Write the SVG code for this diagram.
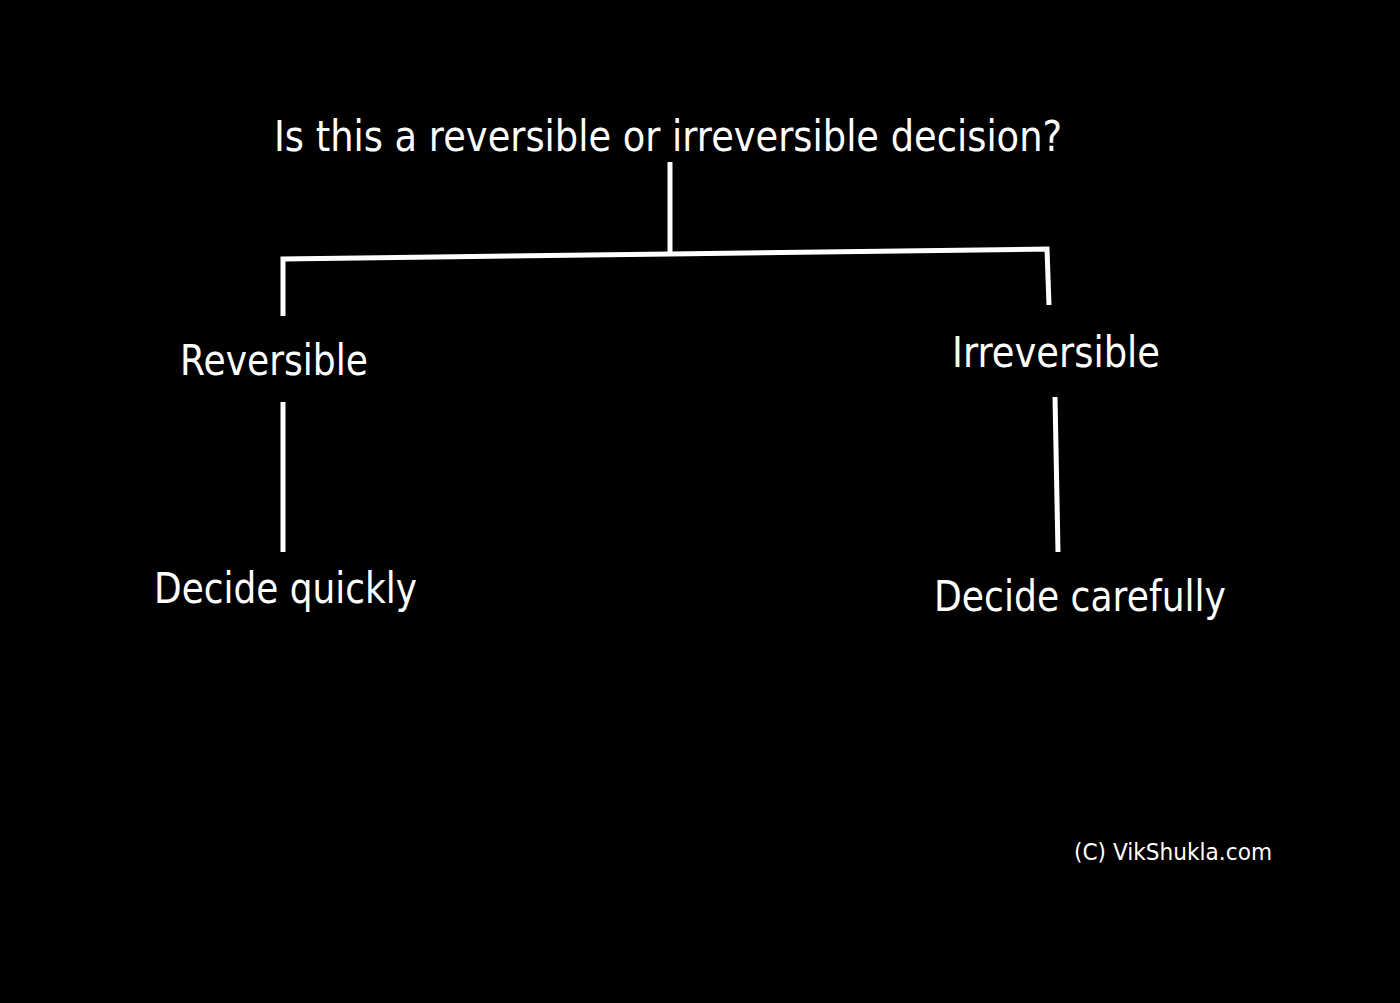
<svg xmlns="http://www.w3.org/2000/svg" width="1400" height="1003" viewBox="0 0 1400 1003">
<style>
.t{fill:#fff;font-family:"DejaVu Sans","Liberation Sans",sans-serif;font-size:43px}
.c{fill:#fff;font-family:"DejaVu Sans","Liberation Sans",sans-serif;font-size:23px}
.ln{stroke:#fff;stroke-width:5;fill:none}
</style>
<rect width="1400" height="1003" fill="#000"/>
<g id="connectors">
<line class="ln" x1="670" y1="162" x2="670" y2="254"/>
<polyline class="ln" points="283,316 283,259 670,254 1047,249 1049,305"/>
<line class="ln" x1="283" y1="402" x2="283" y2="552"/>
<line class="ln" x1="1055" y1="397" x2="1058" y2="552"/>
</g>
<g id="question"><text class="t" x="274" y="151" textLength="788" lengthAdjust="spacingAndGlyphs">Is this a reversible or irreversible decision?</text></g>
<g id="reversible"><text class="t" x="180" y="375" textLength="188" lengthAdjust="spacingAndGlyphs">Reversible</text></g>
<g id="irreversible"><text class="t" x="952" y="367" textLength="208" lengthAdjust="spacingAndGlyphs">Irreversible</text></g>
<g id="decide-quickly"><text class="t" x="154" y="603" textLength="263" lengthAdjust="spacingAndGlyphs">Decide quickly</text></g>
<g id="decide-carefully"><text class="t" x="934" y="611" textLength="292" lengthAdjust="spacingAndGlyphs">Decide carefully</text></g>
<g id="copyright"><text class="c" x="1074" y="860" textLength="198" lengthAdjust="spacingAndGlyphs">(C) VikShukla.com</text></g>
</svg>
